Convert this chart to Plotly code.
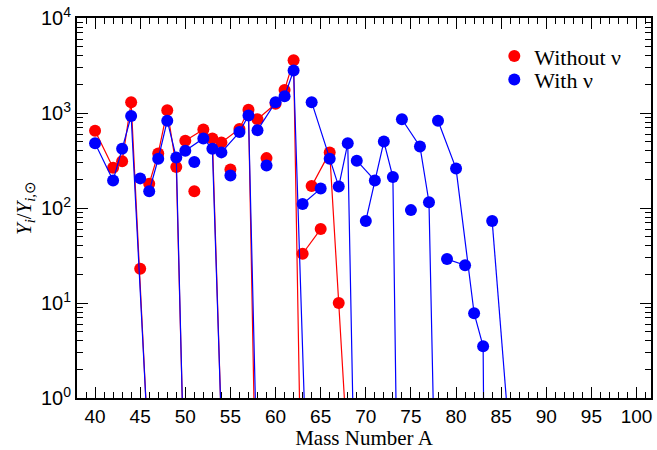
import plotly.graph_objects as go

# ---- data ----
A_red = [40, 42, 43, 44, 45, 46, 47, 48, 49, 50, 51, 52, 53, 54, 55, 56, 57, 58,
         59, 60, 61, 62, 63, 64, 65, 66, 67]
Y_red = [650, 265, 310, 1300, 23, 180, 375, 1070, 270, 510, 150, 670, 540, 490,
         255, 680, 1080, 860, 335, 1250, 1750, 3600, 33, 170, 60, 385, 10]

A_blue = [40, 42, 43, 44, 45, 46, 47, 48, 49, 50, 51, 52, 53, 54, 55, 56, 57, 58,
          59, 60, 61, 62, 63, 64, 65, 66, 67, 68, 69, 70, 71, 72, 73, 74, 75, 76,
          77, 78, 79, 80, 81, 82, 83, 84]
Y_blue = [480, 195, 420, 930, 205, 150, 330, 830, 340, 400, 305, 540, 420, 385,
          220, 630, 940, 660, 280, 1300, 1500, 2800, 110, 1300, 160, 330, 168, 480,
          315, 73, 195, 500, 212, 860, 95, 445, 115, 830, 29, 260, 25, 7.8, 3.5, 73]

# isotope chains joined by lines; each may end with an off-scale (<1) value
red_chains = [[40, 42, 43, 44], [46, 47, 48, 49], [50, 52, 53], [54, 56, 57],
              [58, 60, 61, 62], [63, 65], [64, 66, 67]]
red_tail_A = [46, 50, 54, 58, 64, None, 68]
red_tail_Y = [0.19, 0.056, 0.5, 0.01, 4e-8, None, 0.25]

blue_chains = [[40, 42, 43, 44], [46, 47, 48, 49], [50, 52, 53], [54, 56, 57],
               [58, 60, 61, 62], [63, 65], [64, 66, 67, 68], [69, 71],
               [70, 72, 73], [74, 76, 77], [78, 80, 82, 83], [79, 81], [84]]
blue_tail_A = [46, 50, 54, 58, 64, None, 70, None, 74, 78, 84, None, 86]
blue_tail_Y = [0.2, 0.05, 0.5, 0.115, 0.0036, None, 8.5e-8, None, 3e-5, 0.0038,
               1e-12, None, 0.3]

y_tick_vals = [1, 10, 100, 1000, 10000]
y_tick_text = ["10<sup>0</sup>", "10<sup>1</sup>", "10<sup>2</sup>",
               "10<sup>3</sup>", "10<sup>4</sup>"]
x_tick_vals = [40, 45, 50, 55, 60, 65, 70, 75, 80, 85, 90, 95, 100]

RED = "#ff0000"
BLUE = "#0000ff"
SERIF = "Liberation Serif, Times New Roman, serif"
SANS = "Liberation Sans, Arial, sans-serif"


def chain_xy(A, Y, chains, tail_A, tail_Y):
    lut = dict(zip(A, Y))
    xs, ys = [], []
    for ch, ta, tv in zip(chains, tail_A, tail_Y):
        xs += ch
        ys += [lut[a] for a in ch]
        if ta is not None:
            xs.append(ta)
            ys.append(tv)
        xs.append(None)
        ys.append(None)
    return xs, ys


fig = go.Figure()
for A, Y, chains, ta, tv, col, name, leg in [
    (A_red, Y_red, red_chains, red_tail_A, red_tail_Y, RED, "Without \u03bd", "legend"),
    (A_blue, Y_blue, blue_chains, blue_tail_A, blue_tail_Y, BLUE, "With \u03bd", "legend2"),
]:
    lx, ly = chain_xy(A, Y, chains, ta, tv)
    fig.add_trace(go.Scatter(x=lx, y=ly, mode="lines", line=dict(color=col, width=1.2),
                             showlegend=False, hoverinfo="skip", connectgaps=False))
    fig.add_trace(go.Scatter(x=A, y=Y, mode="markers", name=name, legend=leg,
                             marker=dict(color=col, size=12, line=dict(width=0))))

minor_y = [m * 10 ** k for k in range(4) for m in range(2, 10)]

leg_common = dict(xanchor="left", yanchor="middle", bgcolor="rgba(0,0,0,0)",
                  font=dict(family=SERIF, size=22, color="black"),
                  itemwidth=30, borderwidth=0)

fig.update_layout(
    width=657, height=450,
    margin=dict(l=77, r=4, t=16, b=46),
    paper_bgcolor="white", plot_bgcolor="white",
    showlegend=True,
    legend=dict(x=0.727, y=0.8995, **leg_common),
    legend2=dict(x=0.727, y=0.8376, **leg_common),
    font=dict(family=SANS, color="black"),
)
fig.update_xaxes(
    range=[38, 101.6], tickmode="array", tickvals=x_tick_vals,
    ticks="inside", ticklen=11, tickwidth=1, tickcolor="black",
    minor=dict(dtick=1, ticks="inside", ticklen=6, tickwidth=1, tickcolor="black"),
    showline=True, linecolor="black", linewidth=2, mirror="ticks",
    showgrid=False, zeroline=False,
    tickfont=dict(family=SANS, size=19, color="black"),
    title=dict(text="Mass Number A", standoff=5,
               font=dict(family=SERIF, size=21, color="black")),
)
fig.update_yaxes(
    type="log", range=[0, 4], tickmode="array", tickvals=y_tick_vals,
    ticktext=y_tick_text,
    ticks="inside", ticklen=11, tickwidth=1, tickcolor="black",
    minor=dict(tickvals=minor_y, ticks="inside", ticklen=6, tickwidth=1,
               tickcolor="black"),
    showline=True, linecolor="black", linewidth=2, mirror="ticks",
    showgrid=False, zeroline=False,
    tickfont=dict(family=SANS, size=20, color="black"),
    title=dict(text="<i>Y<sub>i</sub></i>/<i>Y<sub>i,</sub></i><sub>\u2299</sub>",
               standoff=4,
               font=dict(family=SERIF, size=21, color="black")),
)

fig.write_html("out.html")
